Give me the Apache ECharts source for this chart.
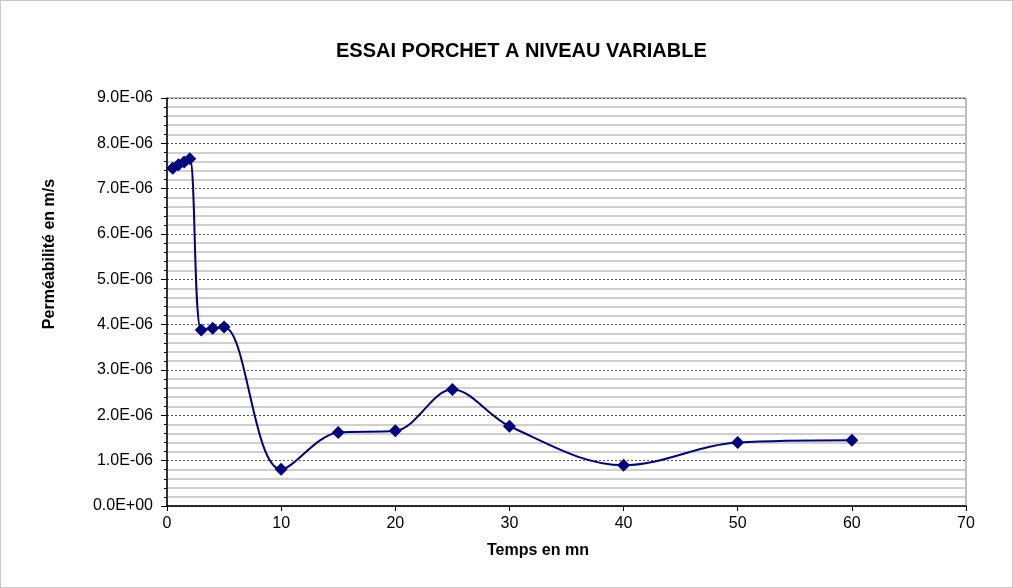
<!DOCTYPE html>
<html>
<head>
<meta charset="utf-8">
<script src="https://cdn.jsdelivr.net/npm/echarts@6/dist/echarts.min.js"></script>
<style>
  html, body { margin: 0; padding: 0; background: #fff; }
  #chart { width: 1013px; height: 588px; box-sizing: border-box; border: 1px solid #c8c8c8; }
</style>
</head>
<body>
<div id="chart"></div>
<script>
// temps (mn) et perméabilité (m/s)
var temps = [0.5, 1, 1.5, 2, 3, 4, 5, 10, 15, 20, 25, 30, 40, 50, 60];
var permeabilite = [7.45e-6, 7.53e-6, 7.59e-6, 7.66e-6, 3.88e-6, 3.92e-6, 3.95e-6,
  0.81e-6, 1.62e-6, 1.66e-6, 2.57e-6, 1.76e-6, 0.90e-6, 1.40e-6, 1.45e-6];

var titre = "ESSAI PORCHET A NIVEAU VARIABLE";
var nomX = "Temps en mn";
var nomY = "Perméabilité en m/s";

function fmtSci(v) {
  if (Math.abs(v) < 1e-12) return "0.0E+00";
  var e = Math.floor(Math.log10(Math.abs(v)) + 1e-9);
  var m = v / Math.pow(10, e);
  var s = e < 0 ? "-" : "+";
  var ae = Math.abs(e);
  return m.toFixed(1) + "E" + s + (ae < 10 ? "0" : "") + ae;
}

var police = "bold 16px 'Liberation Sans', Arial, sans-serif";

var chart = echarts.init(document.getElementById("chart"));
chart.setOption({
  backgroundColor: "#fff",
  animation: false,
  textStyle: { fontFamily: "Liberation Sans, Arial, sans-serif" },
  title: {
    text: titre,
    left: 330,
    top: 35,
    textStyle: { fontSize: 20, fontWeight: "bold", color: "#000" }
  },
  graphic: [{
    type: "text",
    x: 49,
    y: 253,
    rotation: Math.PI / 2,
    style: { text: nomY, font: police, fill: "#000", align: "center", verticalAlign: "middle" }
  }, {
    type: "text",
    x: 537,
    y: 550,
    style: { text: nomX, font: police, fill: "#000", align: "center", verticalAlign: "middle" }
  }],
  grid: { left: 166, right: 46, top: 97, bottom: 81, show: true, borderColor: "#808080", borderWidth: 1 },
  xAxis: {
    type: "value",
    min: 0, max: 70, interval: 10,
    axisLine: { lineStyle: { color: "#000", width: 1.5 } },
    axisTick: { show: true, length: 5, lineStyle: { color: "#000" } },
    axisLabel: { fontSize: 16, color: "#000", margin: 10 },
    splitLine: { show: false }
  },
  yAxis: {
    type: "value",
    min: 0, max: 9e-6, interval: 1e-6,
    axisLine: { show: true, lineStyle: { color: "#000", width: 1.5 } },
    axisTick: { show: true, length: 6, lineStyle: { color: "#000" } },
    minorTick: { show: true, splitNumber: 5, length: 3, lineStyle: { color: "#000" } },
    axisLabel: { fontSize: 16, color: "#000", margin: 14, formatter: fmtSci },
    splitLine: { show: true, lineStyle: { color: "#555", type: [2, 2], width: 1 } },
    minorSplitLine: { show: true, lineStyle: { color: "#c0c0c0", width: 1.5 } }
  },
  series: [{
    type: "line",
    data: temps.map(function (t, i) { return [t, permeabilite[i]]; }),
    smooth: 0.35,
    symbol: "diamond",
    symbolSize: 13,
    itemStyle: { color: "#000080" },
    lineStyle: { color: "#000080", width: 2 }
  }]
});
</script>
</body>
</html>
